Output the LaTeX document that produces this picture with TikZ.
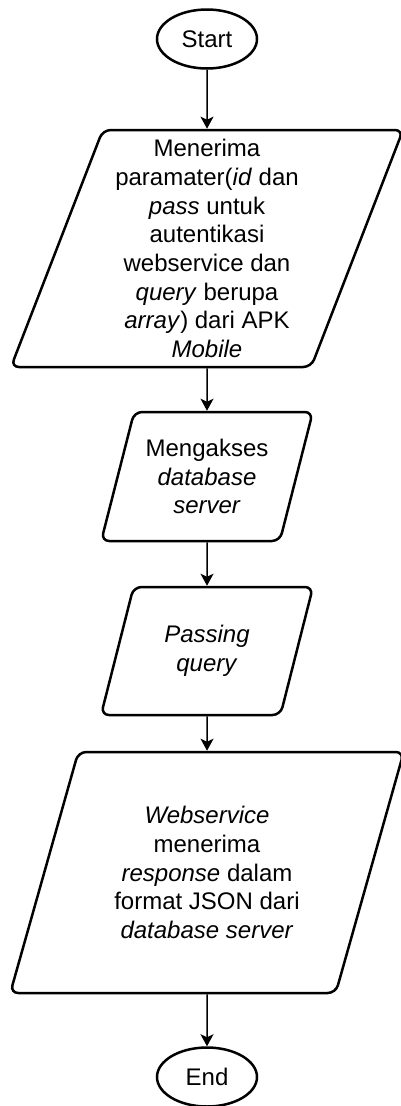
\documentclass[tikz,border=0pt]{standalone}
\usepackage{fontspec}
\setmainfont{Liberation Sans}
\usetikzlibrary{shapes.geometric,arrows.meta}

\begin{document}
\begin{tikzpicture}[x=1pt, y=-1pt,
	font=\fontsize{24}{28.7}\selectfont,
	terminal/.style={draw, ellipse, line width=2.5pt, minimum width=100pt, minimum height=59pt, inner sep=0pt},
	io/.style={draw, trapezium, trapezium left angle=69.7, trapezium right angle=110.3, trapezium stretches=true, rounded corners=8pt, line width=2.5pt, inner sep=0pt, align=center},
	flow/.style={-{Stealth[length=12pt, width=13pt, inset=3pt]}, line width=1.5pt}]
	\useasboundingbox (0,0) rectangle (400,1106);
	% start of the flow
	\draw (207,39) node[terminal] (start) {Start};
	% parameters from the mobile app
	\draw (207,248.5) node[io, minimum width=394pt, minimum height=237pt] (input) {Menerima\\paramater(\textit{id} dan\\\textit{pass} untuk\\autentikasi\\webservice dan\\\textit{query} berupa\\\textit{array}) dari APK\\\textit{Mobile}};
	\draw (207,476.5) node[io, minimum width=212pt, minimum height=129pt] (akses) {Mengakses\\\textit{database}\\\textit{server}};
	\draw (207,651) node[io, minimum width=212pt, minimum height=128pt] (passing) {\textit{Passing}\\\textit{query}};
	% answer of the database server
	\draw (207,872.5) node[io, minimum width=394pt, minimum height=241pt] (respon) {\textit{Webservice}\\menerima\\\textit{response} dalam\\format JSON dari\\\textit{database server}};
	\draw (207,1077) node[terminal] (end) {End};
	\draw [flow] (start) to (input);
	\draw [flow] (input) to (akses);
	\draw [flow] (akses) to (passing);
	\draw [flow] (passing) to (respon);
	\draw [flow] (respon) to (end);
\end{tikzpicture}
\end{document}
